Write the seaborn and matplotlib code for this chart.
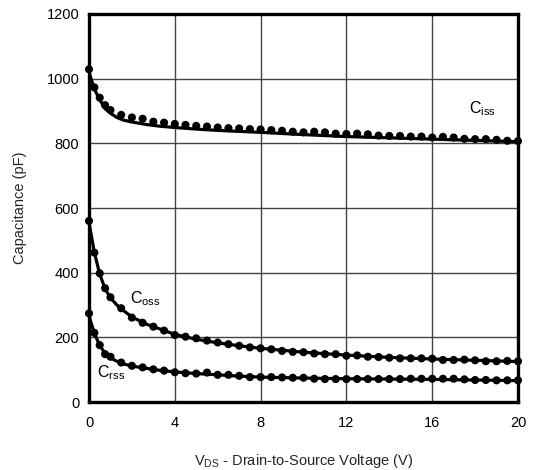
import matplotlib
matplotlib.use("Agg")
import matplotlib.pyplot as plt
import seaborn as sns
import pandas as pd

# ---- data ----
v_dots = [0, 0.25, 0.5, 0.75, 1.0, 1.5, 2.0, 2.5, 3.0, 3.5, 4.0, 4.5, 5.0, 5.5, 6.0,
          6.5, 7.0, 7.5, 8.0, 8.5, 9.0, 9.5, 10.0, 10.5, 11.0, 11.5, 12.0, 12.5, 13.0,
          13.5, 14.0, 14.5, 15.0, 15.5, 16.0, 16.5, 17.0, 17.5, 18.0, 18.5, 19.0, 19.5, 20.0]
ciss_dots = [1029, 973, 941, 918, 903, 888, 880, 876, 867, 864, 860, 857, 854, 852, 849,
             847, 846, 844, 843, 841, 839, 836, 834, 836, 834, 830, 829, 830, 828,
             824, 823, 823, 821, 821, 818, 820, 818, 814, 813, 813, 811, 808, 807]
coss_dots = [560, 462, 398, 352, 324, 290, 261, 245, 233, 221, 207, 202, 197, 190, 184,
             179, 174, 169, 166, 163, 158, 155, 154, 150, 148, 148, 143, 144, 140,
             139, 137, 135, 135, 135, 134, 130, 130, 131, 129, 126, 126, 127, 126]
crss_dots = [274, 214, 176, 148, 140, 122, 112, 107, 101, 97, 92, 89, 88, 91, 84,
             84, 81, 77, 77, 77, 76, 75, 75, 72, 71, 71, 71, 71, 71,
             71, 71, 71, 72, 72, 72, 72, 72, 70, 68, 68, 67, 67, 67]

v_line = [0, 0.25, 0.5, 0.75, 1.0, 1.3, 1.6, 2.0, 2.7, 3.3, 4.0, 5.0, 6.0, 7.0, 8.0,
          10.0, 12.0, 14.0, 16.0, 18.0, 20.0]
ciss_line = [1020, 968, 935, 907, 893, 880, 872, 866, 858, 853, 849, 844, 840, 837, 834,
             827, 821, 817, 813, 809, 805]
coss_line = [555, 462, 396, 350, 322, 300, 283, 263, 240, 226, 209, 194, 183, 174, 166,
             154, 145, 138, 133, 129, 125]
crss_line = [266, 212, 175, 150, 136, 126, 118, 111, 104, 98, 93, 88, 84, 80, 77,
             74, 72, 71, 70, 68, 66]

labels = ["iss", "oss", "rss"]
label_x = [17.7, 1.9, 0.35]
label_y = [906, 320, 90]

x_ticks = [0, 4, 8, 12, 16, 20]
y_ticks = [0, 200, 400, 600, 800, 1000, 1200]

# ---- style ----
sns.set_style("white")
plt.rcParams["font.family"] = ["Liberation Sans", "DejaVu Sans"]
plt.rcParams["mathtext.fontset"] = "custom"
plt.rcParams["mathtext.rm"] = "Liberation Sans"
plt.rcParams["mathtext.it"] = "Liberation Sans:italic"
plt.rcParams["mathtext.bf"] = "Liberation Sans:bold"

fig = plt.figure(figsize=(5.4, 4.7), dpi=100)
ax = fig.add_axes([89 / 540, 68 / 470, (518 - 89) / 540, (402 - 14) / 470])

dots = pd.DataFrame({
    "V": v_dots * 3,
    "C": ciss_dots + coss_dots + crss_dots,
    "s": ["iss"] * len(v_dots) + ["oss"] * len(v_dots) + ["rss"] * len(v_dots),
})
lines = pd.DataFrame({
    "V": v_line * 3,
    "C": ciss_line + coss_line + crss_line,
    "s": ["iss"] * len(v_line) + ["oss"] * len(v_line) + ["rss"] * len(v_line),
})

pal = {"iss": "black", "oss": "black", "rss": "black"}
sns.lineplot(data=lines, x="V", y="C", hue="s", palette=pal, linewidth=2.3,
             legend=False, ax=ax, zorder=3, sort=True)
sns.scatterplot(data=dots, x="V", y="C", hue="s", palette=pal, s=34,
                edgecolor="none", legend=False, ax=ax, zorder=4, clip_on=False)

for lab, lx, ly in zip(labels, label_x, label_y):
    ax.text(lx, ly, r"C$_{\mathrm{%s}}$" % lab, fontsize=11.5, ha="left",
            va="center", color="black")

ax.set_xlim(0, 20)
ax.set_ylim(0, 1200)
ax.set_xticks(x_ticks)
ax.set_yticks(y_ticks)
ax.grid(True, color="#444444", linewidth=1.0)
ax.set_axisbelow(True)
for sp in ax.spines.values():
    sp.set_visible(True)
    sp.set_color("black")
    sp.set_linewidth(2.4)
    sp.set_zorder(5)
ax.tick_params(axis="both", length=0, labelsize=10.5, colors="black")
ax.tick_params(axis="x", pad=10)
ax.tick_params(axis="y", pad=7)
ax.set_xlabel(r"V$_{\mathrm{DS}}$ - Drain-to-Source Voltage (V)", fontsize=10.5,
              labelpad=16)
ax.set_ylabel("Capacitance (pF)", fontsize=10.5, labelpad=14)

fig.savefig("out.png", dpi=100)
